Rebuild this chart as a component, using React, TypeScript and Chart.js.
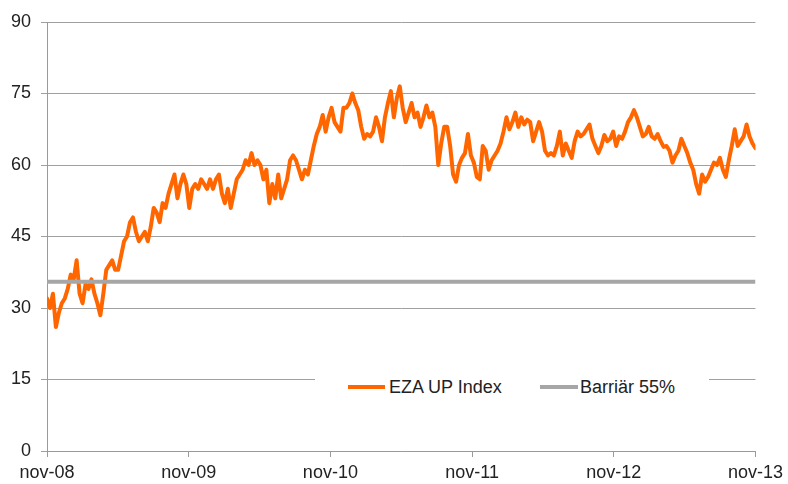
import React, { useEffect, useRef } from "react";
import { Chart, registerables } from "chart.js";

Chart.register(...registerables);

const tickMonths = [0, 12, 24, 36, 48, 60];
const tickLabels = ["nov-08", "nov-09", "nov-10", "nov-11", "nov-12", "nov-13"];
const yTicks = [0, 15, 30, 45, 60, 75, 90];

const seriesName = "EZA UP Index";
const barrierName = "Barriär 55%";
const barrierLevel = 35.5;

// Index level, sampled evenly from nov-08 to nov-13
const ezaValues = [
  32, 30, 33, 26, 29, 31, 32, 34, 37, 36, 40, 33, 31, 35, 34, 36, 33, 31, 28.5, 33,
  38, 39, 40, 38, 38, 41, 44, 45, 48, 49, 46, 44, 45, 46, 44, 47, 51, 50, 48, 52,
  51, 54, 56,
  58, 53, 56, 58, 56, 51, 55, 56, 55, 57, 56, 55, 57, 55, 57, 58, 54, 52, 55, 51,
  54, 57, 58, 59, 61, 60, 62.5, 60, 61, 60, 57, 59, 52, 56, 53, 58, 53, 55, 57,
  61, 62, 61, 59, 57, 59, 58, 61, 64, 66.5, 68, 70.5, 67, 70, 72, 69, 68, 67, 72,
  72, 73, 75, 73, 71.5, 68, 65.5, 66.5, 66, 67, 70, 68, 65, 70, 73, 75.5, 70, 74,
  76.5, 72, 69, 71, 73, 70, 71, 68, 70, 72.5, 70, 71, 68,
  60, 64.6, 68, 68, 64, 58, 56.5, 60, 61.5, 62.5, 66.5, 62, 60.5, 57.5, 57, 64, 63,
  59, 61, 62, 63, 64.5, 67, 70, 67.5, 69, 71, 68, 70, 68.5, 69.5, 69, 65, 67, 69,
  67, 63, 62, 62.5, 62, 64, 67, 62, 64.5, 63, 61.5, 65, 67, 66, 66.5, 67.5, 68.5,
  65.5, 64,
  62.5, 64, 66.3, 65, 65.5, 67, 64, 66, 65.5, 67, 69, 70, 71.5, 70, 68, 66, 66.5,
  68, 66, 65.5, 66.5, 65, 63.8, 64, 63, 60.5, 62, 63, 65.5, 64, 62.5, 60.5, 59, 56,
  54, 58, 56.5, 57.5, 59, 60.5, 60, 61.5, 59, 57.5, 61, 64, 67.5, 64, 65, 66, 68.5,
  66, 64.5, 63.5,
];

const FONT = "Arial, 'Liberation Sans', sans-serif";

export default function App() {
  const ref = useRef<HTMLCanvasElement | null>(null);

  useEffect(() => {
    if (!ref.current) return;
    const n = ezaValues.length;
    const span = tickMonths[tickMonths.length - 1];
    const pts = ezaValues.map((v, i) => ({ x: (i * span) / (n - 1), y: v }));
    const barrier = [
      { x: tickMonths[0], y: barrierLevel },
      { x: span, y: barrierLevel },
    ];
    const chart = new Chart(ref.current, {
      type: "line",
      data: {
        datasets: [
          {
            label: seriesName,
            data: pts,
            borderColor: "#FF6600",
            borderWidth: 4,
            borderJoinStyle: "round",
            borderCapStyle: "round",
            pointRadius: 0,
            tension: 0,
            order: 1,
          },
          {
            label: barrierName,
            data: barrier,
            borderColor: "#A6A6A6",
            borderWidth: 4,
            pointRadius: 0,
            order: 0,
          },
        ],
      },
      options: {
        animation: false,
        responsive: false,
        maintainAspectRatio: false,
        layout: { padding: { top: 22, right: 29, left: 0, bottom: 0 } },
        plugins: { legend: { display: false }, tooltip: { enabled: false } },
        scales: {
          x: {
            type: "linear",
            min: 0,
            max: span,
            afterFit: (s: any) => {
              s.height = 33;
            },
            afterBuildTicks: (s: any) => {
              s.ticks = tickMonths.map((v) => ({ value: v }));
            },
            grid: {
              drawOnChartArea: false,
              drawTicks: true,
              tickLength: 6,
              color: "#9A9A9A",
            },
            border: { color: "#9A9A9A", width: 1 },
            ticks: {
              autoSkip: false,
              maxRotation: 0,
              padding: 5,
              color: "#222",
              font: { family: FONT, size: 18 },
              callback: (v: any) => {
                const i = tickMonths.indexOf(Number(v));
                return i >= 0 ? tickLabels[i] : "";
              },
            },
          },
          y: {
            min: 0,
            max: 90,
            afterFit: (s: any) => {
              s.width = 47;
            },
            afterBuildTicks: (s: any) => {
              s.ticks = yTicks.map((v) => ({ value: v }));
            },
            grid: {
              color: "#A0A0A0",
              lineWidth: 1,
              tickLength: 6,
              drawTicks: true,
            },
            border: { color: "#9A9A9A", width: 1 },
            ticks: {
              padding: 10,
              color: "#222",
              font: { family: FONT, size: 18 },
            },
          },
        },
      },
    });
    return () => chart.destroy();
  }, []);

  const legendText: React.CSSProperties = {
    position: "absolute",
    top: 0,
    height: 30,
    lineHeight: "30px",
    fontFamily: FONT,
    fontSize: 18,
    color: "#222",
    whiteSpace: "nowrap",
  };

  return (
    <div style={{ position: "fixed", left: 0, top: 0, width: 788, height: 484, background: "#fff" }}>
      <canvas ref={ref} width={788} height={484} style={{ display: "block" }} />
      <div
        style={{
          position: "absolute",
          left: 315,
          top: 372,
          width: 394,
          height: 30,
          background: "#fff",
        }}
      >
        <div style={{ position: "absolute", left: 33, top: 13, width: 37, height: 4, background: "#FF6600" }} />
        <div style={{ ...legendText, left: 74 }}>{seriesName}</div>
        <div style={{ position: "absolute", left: 225, top: 13, width: 38, height: 4, background: "#A6A6A6" }} />
        <div style={{ ...legendText, left: 265 }}>{barrierName}</div>
      </div>
    </div>
  );
}
